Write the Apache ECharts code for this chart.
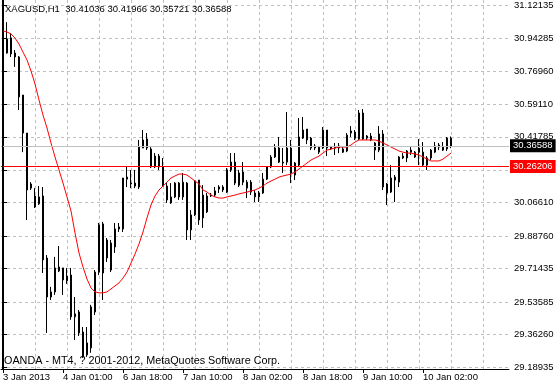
<!DOCTYPE html>
<html><head><meta charset="utf-8">
<script src="https://cdn.jsdelivr.net/npm/echarts@6/dist/echarts.min.js"></script>
<style>html,body{margin:0;padding:0;background:#fff}#c{width:556px;height:387px}</style>
</head><body><div id="c"></div>
<script>
const symbolTitle = 'XAGUSD,H1  30.41036 30.41966 30.35721 30.36588';
const footerText = 'OANDA - MT4, ? 2001-2012, MetaQuotes Software Corp.';

const opens = [30.828,30.865,30.946,30.865,30.844,30.641,30.438,30.144,30.102,30.060,
30.102,29.771,29.563,29.590,29.702,29.718,29.649,29.680,29.457,29.483,
29.376,29.254,29.291,29.483,29.696,29.953,29.867,29.707,29.830,29.926,
29.926,30.192,30.171,30.171,30.150,30.358,30.406,30.353,30.257,30.315,
30.257,30.155,30.065,30.097,30.171,30.097,30.171,29.921,30.001,30.187,
30.107,30.017,30.107,30.107,30.139,30.150,30.123,30.241,30.283,30.225,
30.230,30.144,30.176,30.097,30.118,30.118,30.192,30.257,30.310,30.358,
30.283,30.283,30.358,30.214,30.267,30.411,30.459,30.411,30.358,30.336,
30.358,30.454,30.363,30.358,30.369,30.353,30.342,30.438,30.443,30.406,
30.545,30.422,30.422,30.385,30.347,30.433,30.166,30.123,30.187,30.176,
30.315,30.305,30.347,30.310,30.358,30.336,30.305,30.305,30.336,30.374,
30.363,30.353,30.41036];
const closes = [30.867,30.940,30.860,30.844,30.631,30.438,30.134,30.166,30.043,30.097,
29.761,29.563,29.590,29.718,29.723,29.654,29.675,29.457,29.473,29.371,
29.243,29.318,29.510,29.696,29.948,29.691,29.771,29.851,29.926,29.937,
30.198,30.203,30.166,30.155,30.363,30.401,30.358,30.257,30.315,30.257,
30.155,30.081,30.097,30.171,30.097,30.176,29.921,30.001,30.182,29.974,
29.985,30.102,30.102,30.129,30.150,30.134,30.241,30.283,30.171,30.160,
30.176,30.176,30.123,30.118,30.097,30.192,30.257,30.310,30.358,30.283,
30.278,30.358,30.225,30.278,30.417,30.454,30.401,30.358,30.369,30.363,
30.454,30.358,30.353,30.363,30.358,30.336,30.427,30.449,30.411,30.545,
30.406,30.411,30.401,30.347,30.433,30.150,30.118,30.198,30.203,30.310,
30.305,30.342,30.336,30.336,30.336,30.267,30.267,30.347,30.369,30.363,
30.347,30.411,30.36588];
const highs = [30.892,31.030,30.972,30.881,30.849,30.641,30.438,30.176,30.144,30.155,
30.150,29.787,29.617,29.777,29.835,29.718,29.718,29.718,29.563,29.494,
29.403,29.403,29.521,29.707,29.958,29.964,29.878,29.867,29.958,29.958,
30.198,30.257,30.241,30.241,30.401,30.454,30.438,30.363,30.331,30.326,
30.305,30.171,30.171,30.176,30.176,30.225,30.176,30.027,30.187,30.187,
30.160,30.118,30.118,30.150,30.160,30.160,30.251,30.331,30.331,30.241,
30.283,30.187,30.187,30.134,30.129,30.225,30.262,30.321,30.379,30.417,
30.358,30.550,30.401,30.283,30.518,30.524,30.459,30.417,30.379,30.369,
30.470,30.454,30.369,30.385,30.385,30.363,30.438,30.475,30.454,30.561,
30.566,30.427,30.438,30.390,30.475,30.454,30.171,30.267,30.214,30.315,
30.331,30.347,30.363,30.342,30.406,30.390,30.315,30.353,30.390,30.385,
30.390,30.417,30.41966];
const lows = [30.748,30.862,30.844,30.791,30.561,30.336,29.974,30.134,30.038,30.054,
29.691,29.371,29.547,29.574,29.696,29.574,29.633,29.441,29.334,29.355,
29.238,29.243,29.265,29.467,29.680,29.547,29.750,29.696,29.798,29.910,
29.910,30.150,30.144,30.144,30.139,30.358,30.347,30.251,30.251,30.241,
30.150,30.065,30.060,30.091,30.081,30.081,29.867,29.867,29.995,29.948,
29.932,30.011,30.097,30.097,30.118,30.123,30.118,30.230,30.160,30.150,
30.160,30.091,30.107,30.070,30.070,30.113,30.187,30.251,30.305,30.278,
30.225,30.267,30.171,30.187,30.257,30.406,30.379,30.347,30.347,30.326,
30.353,30.315,30.347,30.321,30.331,30.331,30.336,30.417,30.401,30.401,
30.401,30.401,30.395,30.294,30.336,30.134,30.054,30.118,30.070,30.150,
30.299,30.283,30.321,30.305,30.267,30.257,30.241,30.294,30.331,30.347,
30.342,30.342,30.35721];
const maValues = [30.983,30.977,30.967,30.945,30.913,30.870,30.828,30.769,30.700,30.614,
30.534,30.465,30.385,30.310,30.241,30.171,30.097,30.022,29.905,29.798,
29.723,29.659,29.611,29.590,29.585,29.585,29.590,29.606,29.622,29.638,
29.664,29.696,29.744,29.792,29.846,29.910,29.985,30.054,30.102,30.134,
30.155,30.176,30.198,30.209,30.219,30.219,30.214,30.198,30.182,30.166,
30.134,30.123,30.107,30.097,30.091,30.091,30.097,30.102,30.107,30.113,
30.118,30.123,30.129,30.134,30.144,30.155,30.171,30.182,30.192,30.203,
30.209,30.214,30.219,30.230,30.246,30.262,30.278,30.294,30.305,30.315,
30.331,30.347,30.353,30.358,30.363,30.363,30.363,30.374,30.390,30.401,
30.401,30.401,30.401,30.401,30.395,30.385,30.374,30.363,30.353,30.342,
30.336,30.331,30.331,30.326,30.321,30.310,30.299,30.289,30.289,30.289,
30.299,30.315,30.331];

const yTickValues = [29.18935,29.36260,29.53585,29.71435,29.88760,30.06610,30.23935,30.41785,30.59110,30.76960,30.94285,31.12135];
const xTickIndex = [0,15,30,45,60,75,90,105];
const xTickLabels = ['3 Jan 2013','4 Jan 01:00','6 Jan 18:00','7 Jan 10:00','8 Jan 02:00','8 Jan 18:00','9 Jan 10:00','10 Jan 02:00'];
const vGridIndex = [8,16,24,32,40,48,56,64,72,80,88,96,104,112,120];
const bidPrice = 30.36588;
const askPrice = 30.26206;
const totalSlots = 127;
const yMin = 29.17868, yMax = 31.14803;

const categories = Array.from({length: totalSlots}, (_, i) => String(i));
const candleData = opens.map((o, i) => [o, closes[i], lows[i], highs[i]]);
const labelMap = {};
xTickIndex.forEach((idx, k) => { labelMap[idx] = xTickLabels[k]; });
const FONT = 'Liberation Sans';

const chart = echarts.init(document.getElementById('c'), null, {renderer: 'canvas'});
chart.setOption({
  animation: false,
  backgroundColor: '#ffffff',
  grid: {left: 1, right: 47, top: 0, bottom: 18, containLabel: false, outerBoundsMode: 'none'},
  xAxis: [{
    type: 'category', data: categories, boundaryGap: true, gridIndex: 0,
    axisLine: {show: true, lineStyle: {color: '#000', width: 1}},
    axisTick: {show: true, alignWithLabel: true, length: 4, lineStyle: {color: '#000'},
      interval: (i) => labelMap[i] !== undefined},
    axisLabel: {show: true, interval: (i) => labelMap[i] !== undefined, align: 'left', margin: 3,
      color: '#000', fontFamily: FONT, fontSize: 9.5,
      formatter: (v, i) => labelMap[i] || ''},
    splitLine: {show: false}
  }, {
    type: 'value', min: -0.5, max: totalSlots - 0.5, gridIndex: 0, position: 'bottom',
    axisLine: {show: false}, axisLabel: {show: false},
    axisTick: {show: false, customValues: vGridIndex},
    splitLine: {show: true, lineStyle: {color: '#c0c0c0', type: [3, 3], width: 1}}
  }],
  yAxis: [{
    type: 'value', position: 'right', min: yMin, max: yMax, scale: true,
    axisLine: {show: true, lineStyle: {color: '#000', width: 1}},
    axisTick: {show: true, length: 4, customValues: yTickValues, lineStyle: {color: '#000'}},
    axisLabel: {show: true, customValues: yTickValues, margin: 5, color: '#000',
      fontFamily: FONT, fontSize: 9.5, formatter: (v) => v.toFixed(5)},
    splitLine: {show: true, lineStyle: {color: '#c0c0c0', type: [3, 3], width: 1}}
  }],
  series: [{
    type: 'candlestick', xAxisIndex: 0, yAxisIndex: 0, data: candleData, barWidth: 2,
    itemStyle: {color: '#ffffff', color0: '#000000', borderColor: '#000000', borderColor0: '#000000', borderWidth: 1},
    markLine: {
      symbol: 'none', silent: true, animation: false,
      data: [
        {yAxis: bidPrice, lineStyle: {color: '#c0c0c0', type: 'solid', width: 1},
          label: {show: true, position: 'end', distance: 1, formatter: bidPrice.toFixed(5), color: '#fff',
            backgroundColor: '#000', padding: [2, 3, 1, 3], fontFamily: FONT, fontSize: 9.5}},
        {yAxis: askPrice, lineStyle: {color: '#ff0000', type: 'solid', width: 1},
          label: {show: true, position: 'end', distance: 1, formatter: askPrice.toFixed(5), color: '#fff',
            backgroundColor: '#ff0000', padding: [2, 3, 1, 3], fontFamily: FONT, fontSize: 9.5}}
      ]
    },
    z: 3
  }, {
    type: 'line', xAxisIndex: 0, yAxisIndex: 0, data: maValues, showSymbol: false, symbol: 'none',
    lineStyle: {color: '#ff0000', width: 1}, z: 4, silent: true
  }],
  graphic: [
    {type: 'line', shape: {x1: 2.5, y1: 0, x2: 2.5, y2: 369}, style: {stroke: '#000', lineWidth: 1}, z: 10},
    {type: 'text', left: 5, top: 4, style: {text: symbolTitle, fill: '#000', font: '9.5px "Liberation Sans"'}, z: 10},
    {type: 'text', left: 4, top: 356, style: {text: footerText, fill: '#000', font: '10.8px "Liberation Sans"'}, z: 10}
  ]
});
</script></body></html>
